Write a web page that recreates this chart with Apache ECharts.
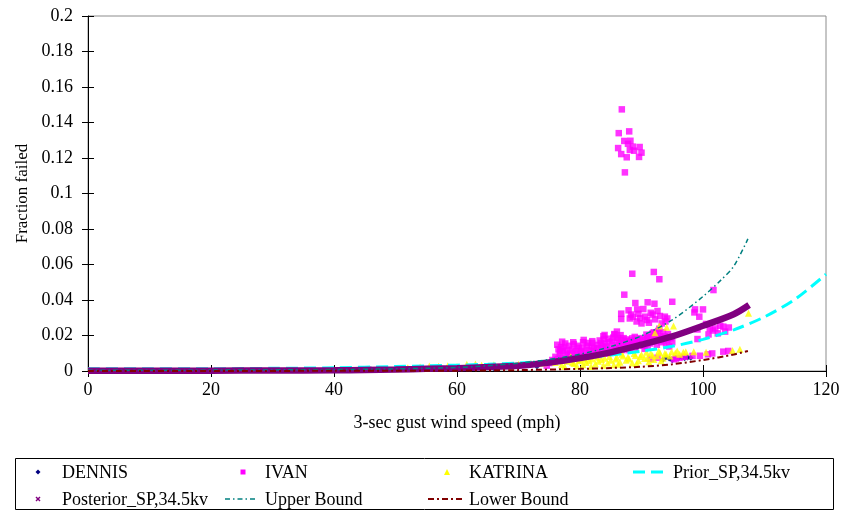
<!DOCTYPE html>
<html>
<head>
<meta charset="utf-8">
<script src="https://cdn.jsdelivr.net/npm/echarts@6/dist/echarts.min.js"></script>
<style>
html,body{margin:0;padding:0;background:#fff;}
#chart{width:843px;height:512px;}
</style>
</head>
<body>
<div id="chart"></div>
<script>
// ---------- DATA ----------
var xTicks = [0, 20, 40, 60, 80, 100, 120];
var yTicks = [0, 0.02, 0.04, 0.06, 0.08, 0.1, 0.12, 0.14, 0.16, 0.18, 0.2];

var dennisPoints = [
  [45,0.0008],[46,0.001],[47,0.0009],[48,0.0007],[52,0.0012],[53,0.001],[58,0.0011],
  [62,0.0013],[66,0.0016],[70,0.0022],[73,0.0025],[89.3,0.0133],[93.5,0.0065],[94,0.0078],
  [94.5,0.007],[95,0.006],[95.5,0.0075],[96,0.007],[96.5,0.0078],[97,0.0072],[97.5,0.0076],[98,0.0074]
];

var ivanPoints = [
  // upper cluster
  [86.8,0.1474],[86.3,0.134],[88.0,0.135],[86.2,0.1256],[87.2,0.1296],[88.2,0.1297],[88.6,0.1264],
  [89.7,0.1262],[86.7,0.1222],[87.6,0.1204],[88.8,0.1241],[90.0,0.123],[89.6,0.1206],[87.3,0.1119],
  [88.1,0.1245],[87.8,0.128],
  // middle cluster
  [88.5,0.0548],[92.0,0.0558],[92.9,0.0517],[87.2,0.043],[89.0,0.0383],[91.0,0.0387],[92.1,0.0379],
  [95.0,0.039],[86.7,0.0323],[86.7,0.0293],[87.9,0.0342],[89.3,0.0347],[90.3,0.0349],[91.5,0.0328],
  [93.0,0.031],[93.8,0.0306],[88.6,0.0306],[89.8,0.0297],[90.9,0.0287],[92.2,0.0291],[89.2,0.0279],
  [90.0,0.0268],[88.1,0.0296],[93.3,0.0268],[93.9,0.0279],[90.6,0.0306],[91.8,0.0318],[89.5,0.0322],
  [92.6,0.0338],[94.2,0.0296],[88.3,0.0318],[91.2,0.0272],
  // right group
  [101.7,0.0456],[98.7,0.0347],[100.0,0.0347],[98.6,0.033],[99.4,0.0306],[100.5,0.0265],[99.1,0.0234],
  [99.1,0.018],[100.9,0.0206],[102.0,0.024],[103.3,0.025],[103.6,0.0222],[101.1,0.024],[102.8,0.0255],
  [101.6,0.0228],[104.2,0.0245],[102.4,0.0212],
  // right low row
  [95.6,0.0071],[98.3,0.0085],[99.5,0.0086],[100.8,0.0094],[101.5,0.0099],[103.3,0.0109],[104.1,0.0113],
  [97.0,0.008],[96.2,0.0074],[91.5,0.0068],[92.6,0.0075],[95.3,0.0066],
  // dense band
  [74.6,0.003],[75.0,0.0045],[75.5,0.0062],[76.0,0.008],
  [76.3,0.0148],[76.5,0.0122],[76.7,0.0098],[76.9,0.0135],[77.0,0.0075],[77.2,0.0112],[77.4,0.0058],
  [77.6,0.0155],[77.9,0.0118],[78.1,0.0088],[78.4,0.0104],[78.8,0.0121],[79.1,0.0069],[79.5,0.0096],
  [79.8,0.0131],[80.2,0.0112],[80.5,0.0162],[80.8,0.0086],[81.1,0.0142],[81.4,0.0118],[81.7,0.0098],
  [82.0,0.0158],[82.3,0.0129],[82.6,0.0108],[82.9,0.0147],[83.2,0.0172],[83.5,0.0125],[83.8,0.0196],
  [84.0,0.0155],[84.3,0.0138],[84.6,0.0182],[84.9,0.0116],[85.2,0.0167],[85.6,0.0205],[85.8,0.0148],
  [86.1,0.0186],[86.4,0.0128],[86.7,0.0172],[87.0,0.0155],[87.3,0.0138],[87.6,0.0178],[87.9,0.0162],
  [88.2,0.0145],[88.5,0.0184],[88.8,0.0168],[89.1,0.0152],[89.4,0.0176],[89.7,0.0185],[90.0,0.0161],
  [90.3,0.0142],[90.6,0.0172],[90.9,0.0188],[91.2,0.0165],[91.5,0.0178],[91.8,0.0212],[92.1,0.0192],
  [92.4,0.0175],[92.7,0.0225],[93.0,0.0198],[93.3,0.0184],[93.6,0.0168],[79.0,0.0152],[81.9,0.0135],
  [84.4,0.0098],[86.9,0.0118],[89.0,0.0128],[91.0,0.0135],[78.5,0.0065],[80.0,0.0072],[83.0,0.0089],
  [85.5,0.0105],[88.0,0.0118],[90.5,0.0125],[92.5,0.0148],[94.0,0.0155],[94.5,0.0138],[92.9,0.0238],
  [93.5,0.0218],[84.0,0.0203],[85.6,0.0208],[86.1,0.0186],[82.0,0.0168],[80.6,0.0175],
  [76.4,0.0068],[76.8,0.0112],[77.3,0.0132],[77.8,0.0095],[78.2,0.0142],[78.6,0.0082],[79.3,0.0112],
  [79.6,0.0142],[80.1,0.0095],[80.4,0.0128],[80.9,0.0105],[81.3,0.0158],[81.6,0.0082],[82.2,0.0112],
  [82.8,0.0128],[83.1,0.0105],[83.4,0.0158],[83.7,0.0138],[84.1,0.0118],[84.8,0.0162],[85.1,0.0128],
  [85.4,0.0188],[85.9,0.0125],[86.3,0.0158],[86.6,0.0202],[87.1,0.0185],[87.4,0.0168],[87.8,0.0135],
  [88.3,0.0172],[88.6,0.0155],[88.9,0.0192],[89.3,0.0162],[89.8,0.0148],[90.2,0.0178],[90.7,0.0155],
  [91.1,0.0192],[91.4,0.0155],[91.9,0.0168],[92.3,0.0205],[92.8,0.0185],[93.2,0.0162],[93.8,0.0195],
  [94.2,0.0175],[94.7,0.0185],[95.0,0.0162],[77.1,0.0165],[78.9,0.0162],[83.9,0.0178],[86.0,0.0222],
  [90.8,0.0205],[92.0,0.0218],[94.3,0.0208]
];

var katrinaPoints = [
  [50,0.0012],[52,0.0018],[54,0.0022],[55.5,0.0028],[57,0.0027],[58.5,0.0029],[60,0.0025],
  [61.6,0.0038],[63,0.004],[64,0.0032],[66,0.0035],[68,0.0033],[70,0.0038],[72,0.0042],[74,0.0045],
  [76,0.0048],[77,0.0035],[78,0.0055],[78.5,0.008],[79,0.0042],[80,0.0062],[81,0.0048],[82,0.0068],
  [83,0.0055],[84,0.0072],[85,0.006],[86,0.0078],[86.5,0.005],[87,0.0085],[88,0.0068],[89,0.0088],
  [89.5,0.0058],[90,0.0092],[91,0.0075],[91.5,0.0098],[92,0.0065],[92.5,0.0085],[93,0.0102],
  [93.5,0.0072],[94,0.0095],[94.9,0.0109],[97.2,0.0109],[104.8,0.0115],[106,0.0123],[107.4,0.0325],
  [92.2,0.0216],[92.9,0.0253],[94.1,0.0246],[95.2,0.0253],[82.5,0.004],[84.5,0.0045],[87.5,0.006],
  [90.5,0.007],[80.5,0.0035],[79.5,0.0028],[85.5,0.0035],[88.5,0.0045],
  [77.5,0.0025],[78.8,0.0048],[79.8,0.0058],[80.8,0.0068],[81.5,0.0058],[82.8,0.0078],[83.5,0.0065],
  [84.8,0.0082],[85.8,0.0068],[86.8,0.0095],[87.8,0.0078],[88.8,0.0098],[89.8,0.0082],[90.8,0.0105],
  [91.8,0.0088],[92.8,0.0112],[93.8,0.0098],[94.6,0.0085],[95.5,0.0102],[96.2,0.0095],[81.8,0.0025],
  [83.8,0.0032],[86.2,0.0038],[89.2,0.0042],[91.2,0.0052],[93.2,0.0058],[95.8,0.0112],[96.8,0.0105],
  [98.5,0.0108],[100.5,0.0105]
];

var priorX = [0,10,20,30,40,50,55,60,65,70,75,80,85,90,95,100,105,110,115,120];
var priorY = [0.0013,0.0013,0.0013,0.0015,0.0018,0.0025,0.0029,0.0033,0.0038,0.0045,0.0057,0.0072,0.009,0.0112,0.0139,0.0178,0.0232,0.0305,0.0405,0.0545];

var posteriorX = [0,10,20,30,40,45,50,55,60,65,70,75,80,85,90,95,100,105,107.5];
var posteriorY = [0.0002,0.0002,0.0002,0.0003,0.0004,0.0006,0.0008,0.0012,0.0016,0.0022,0.003,0.0048,0.0073,0.0105,0.0148,0.0195,0.0255,0.032,0.0372];

var upperX = [0,20,40,50,60,65,70,75,80,85,90,95,100,103,105,107.3];
var upperY = [0.0004,0.0005,0.0008,0.0012,0.002,0.003,0.0044,0.0065,0.0095,0.0138,0.0198,0.0288,0.042,0.0515,0.059,0.0744];

var lowerX = [0,20,40,50,60,70,80,85,90,95,100,105,107.3];
var lowerY = [0,0,0.0001,0.0001,0.0002,0.0005,0.0012,0.0017,0.0024,0.0038,0.0062,0.0093,0.0113];

var seriesNames = ['DENNIS','IVAN','KATRINA','Prior_SP,34.5kv','Posterior_SP,34.5kv','Upper Bound','Lower Bound'];

// ---------- BUILD ----------
function zip(xs, ys){ return xs.map(function(x,i){ return [x, ys[i]]; }); }
var FONT = 'Liberation Serif';
var xMin = xTicks[0], xMax = xTicks[xTicks.length-1], xInt = xTicks[1]-xTicks[0];
var yMin = yTicks[0], yMax = yTicks[yTicks.length-1], yInt = yTicks[1]-yTicks[0];
function fmtY(v){ return String(parseFloat(v.toFixed(3))); }

var chart = echarts.init(document.getElementById('chart'), null, {renderer:'canvas'});

var baseX = {type:'value', min:xMin, max:xMax, interval:xInt, position:'bottom', splitLine:{show:false}};
var baseY = {type:'value', min:yMin, max:yMax, interval:yInt, position:'left', splitLine:{show:false}};

function legendText(x, y, t){
  return {type:'text', left:x, top:y-9, style:{text:t, font:'18px "'+FONT+'"', fill:'#000'}};
}
function legendLine(x1, x2, y, color, w, dash){
  return {type:'line', shape:{x1:x1,y1:y,x2:x2,y2:y}, style:{stroke:color, lineWidth:w, lineDash:dash}};
}
var SM = 0.3;

var option = {
  animation:false,
  backgroundColor:'#fff',
  grid:{left:88, right:17, top:16, bottom:141, show:true, borderColor:'#8c8c8c', borderWidth:1, backgroundColor:'transparent'},
  xAxis:[
    Object.assign({}, baseX, {
      axisLine:{show:true, lineStyle:{color:'#000', width:1}},
      axisTick:{show:true, inside:false, length:6, lineStyle:{color:'#000'}},
      axisLabel:{show:true, color:'#000', fontFamily:FONT, fontSize:18, margin:10},
      name:'3-sec gust wind speed (mph)', nameLocation:'middle', nameGap:43,
      nameTextStyle:{color:'#000', fontFamily:FONT, fontSize:18}
    }),
    Object.assign({}, baseX, {
      axisLine:{show:false}, axisLabel:{show:false},
      axisTick:{show:true, inside:true, length:6, lineStyle:{color:'#000'}}
    })
  ],
  yAxis:[
    Object.assign({}, baseY, {
      axisLine:{show:true, lineStyle:{color:'#000', width:1}},
      axisTick:{show:true, inside:false, length:6, lineStyle:{color:'#000'}},
      axisLabel:{show:true, color:'#000', fontFamily:FONT, fontSize:18, margin:15, formatter:fmtY},
      name:'Fraction failed', nameLocation:'middle', nameGap:57, nameRotate:90,
      nameTextStyle:{color:'#000', fontFamily:FONT, fontSize:17}
    }),
    Object.assign({}, baseY, {
      axisLine:{show:false}, axisLabel:{show:false},
      axisTick:{show:true, inside:true, length:6, lineStyle:{color:'#000'}}
    })
  ],
  series:[
    {name:seriesNames[0], type:'scatter', data:dennisPoints, symbol:'diamond', symbolSize:6, itemStyle:{color:'#000080'}},
    {name:seriesNames[1], type:'scatter', data:ivanPoints, symbol:'rect', symbolSize:6.5, itemStyle:{color:'#FF00FF'}},
    {name:seriesNames[2], type:'scatter', data:katrinaPoints, symbol:'triangle', symbolSize:7, itemStyle:{color:'#FFFF00'}},
    {name:seriesNames[3], type:'line', data:zip(priorX, priorY), smooth:SM, showSymbol:false, symbol:'none',
      lineStyle:{color:'#00FFFF', width:3, type:[12,6]}},
    {name:seriesNames[4], type:'line', data:zip(posteriorX, posteriorY), smooth:SM, showSymbol:false, symbol:'none',
      lineStyle:{color:'#800080', width:6.5}},
    {name:seriesNames[5], type:'line', data:zip(upperX, upperY), smooth:SM, showSymbol:false, symbol:'none',
      lineStyle:{color:'#008080', width:1.5, type:[5,3,1.5,3]}},
    {name:seriesNames[6], type:'line', data:zip(lowerX, lowerY), smooth:SM, showSymbol:false, symbol:'none',
      lineStyle:{color:'#800000', width:2, type:[6,3,2,3]}}
  ],
  graphic:[
    {type:'rect', shape:{x:15.5, y:458.5, width:818, height:51}, style:{fill:'#fff', stroke:'#000', lineWidth:1}},
    // row 1
    {type:'polygon', shape:{points:[[38,469.5],[40.5,472],[38,474.5],[35.5,472]]}, style:{fill:'#000080'}},
    legendText(62, 473, seriesNames[0]),
    {type:'rect', shape:{x:240.5, y:469.5, width:5, height:5}, style:{fill:'#FF00FF'}},
    legendText(265, 473, seriesNames[1]),
    {type:'polygon', shape:{points:[[447,469],[450,475],[444,475]]}, style:{fill:'#FFFF00'}},
    legendText(469, 473, seriesNames[2]),
    legendLine(633, 668, 472, '#00FFFF', 3, [12,6]),
    legendText(673, 473, seriesNames[3]),
    // row 2
    {type:'line', shape:{x1:36,y1:497,x2:40,y2:501}, style:{stroke:'#800080', lineWidth:1.5}},
    {type:'line', shape:{x1:40,y1:497,x2:36,y2:501}, style:{stroke:'#800080', lineWidth:1.5}},
    legendText(62, 500, seriesNames[4]),
    legendLine(225, 258, 499, '#008080', 1.5, [5,3,1.5,3]),
    legendText(265, 500, seriesNames[5]),
    legendLine(428, 463, 499, '#800000', 2, [6,3,2,3]),
    legendText(469, 500, seriesNames[6])
  ]
};
chart.setOption(option);
</script>
</body>
</html>
